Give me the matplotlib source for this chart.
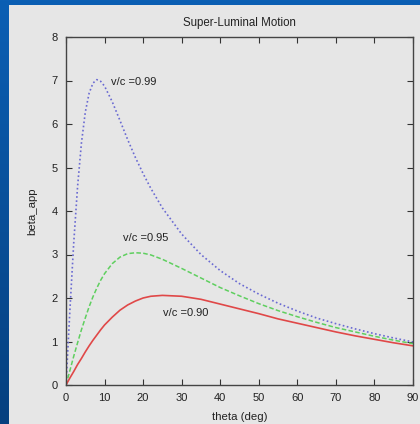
"""
Super-luminal motion: apparent transverse speed vs viewing angle.
"""

import matplotlib.pyplot as plt
import numpy as np


# viewing angle (deg) and apparent speed
THETA = [0, 1, 2, 3, 4, 5, 6, 7, 8, 9, 10, 12, 14, 16, 18, 20, 22,
         25, 30, 35, 40, 45, 50, 55, 60, 65, 70, 75, 80, 85, 90]
BETA_099 = [0.0, 1.70, 3.26, 4.56, 5.56, 6.27, 6.71, 6.94, 7.02, 6.98,
            6.87, 6.51, 6.08, 5.64, 5.23, 4.86, 4.52, 4.07, 3.47, 3.00,
            2.63, 2.33, 2.09, 1.88, 1.70, 1.54, 1.41, 1.29, 1.18, 1.08,
            0.99]
BETA_095 = [0.0, 0.33, 0.66, 0.97, 1.27, 1.54, 1.80, 2.03, 2.23, 2.41,
            2.56, 2.79, 2.94, 3.02, 3.04, 3.03, 2.99, 2.89, 2.68, 2.46,
            2.24, 2.05, 1.87, 1.71, 1.57, 1.44, 1.32, 1.22, 1.12, 1.03,
            0.95]
BETA_090 = [0.0, 0.16, 0.31, 0.47, 0.61, 0.76, 0.90, 1.03, 1.15, 1.27,
            1.38, 1.56, 1.72, 1.84, 1.93, 2.00, 2.04, 2.06, 2.04, 1.97,
            1.86, 1.75, 1.64, 1.52, 1.42, 1.32, 1.22, 1.13, 1.05, 0.97,
            0.90]

X_TICKS = [0, 10, 20, 30, 40, 50, 60, 70, 80, 90]
Y_TICKS = [0, 1, 2, 3, 4, 5, 6, 7, 8]

plt.rcParams["font.family"] = ["Liberation Sans", "DejaVu Sans"]

fig = plt.figure(figsize=(4.2, 4.24), dpi=100)

# slide background: blue gradient
bg = fig.add_axes([0, 0, 1, 1])
grad = np.linspace(0, 1, 256).reshape(-1, 1)
bg.imshow(
    grad,
    aspect="auto",
    cmap=plt.matplotlib.colors.LinearSegmentedColormap.from_list(
        "slide", ["#0b5fb4", "#06407f"]
    ),
    extent=[0, 1, 0, 1],
)
bg.axis("off")

# light grey panel of the pasted plot
bg.add_patch(
    plt.Rectangle(
        (9 / 420, 0),
        1,
        (424 - 5) / 424,
        transform=bg.transAxes,
        facecolor="#e6e6e6",
        edgecolor="none",
    )
)
bg.set_xlim(0, 1)
bg.set_ylim(0, 1)

ax = fig.add_axes([66 / 420, 1 - 385 / 424, 347 / 420, 348 / 424])
ax.set_facecolor("#e6e6e6")

ax.plot(
    THETA,
    BETA_099,
    color="#6a6ad2",
    linestyle=(0, (1, 1.5)),
    linewidth=1.2,
)
ax.plot(
    THETA,
    BETA_095,
    color="#5fcf5f",
    linestyle=(0, (3, 1.5)),
    linewidth=1.1,
)
ax.plot(
    THETA,
    BETA_090,
    color="#e04848",
    linewidth=1.2,
)

label_kw = dict(fontsize=8, color="#222222", va="center", ha="left")
ax.text(11.7, 6.97, "v/c =0.99", **label_kw)
ax.text(14.8, 3.38, "v/c =0.95", **label_kw)
ax.text(25.2, 1.66, "v/c =0.90", **label_kw)

ax.set_xlim(0, 90)
ax.set_ylim(0, 8)
ax.set_xticks(X_TICKS)
ax.set_yticks(Y_TICKS)
ax.tick_params(
    direction="in",
    length=4,
    width=0.8,
    color="#333333",
    labelsize=8,
    labelcolor="#222222",
    top=True,
    right=True,
)
ax.tick_params(axis="x", pad=6)
ax.tick_params(axis="y", pad=6)

for spine in ax.spines.values():
    spine.set_color("#444444")
    spine.set_linewidth(1.0)

ax.set_title(
    "Super-Luminal Motion",
    fontsize=8.3,
    color="#222222",
    pad=8,
)
ax.set_xlabel(
    "theta (deg)",
    fontsize=8.2,
    color="#222222",
    labelpad=6,
)
ax.set_ylabel(
    "beta_app",
    fontsize=8.2,
    color="#222222",
    labelpad=10,
)

fig.savefig("out.png", dpi=100)
